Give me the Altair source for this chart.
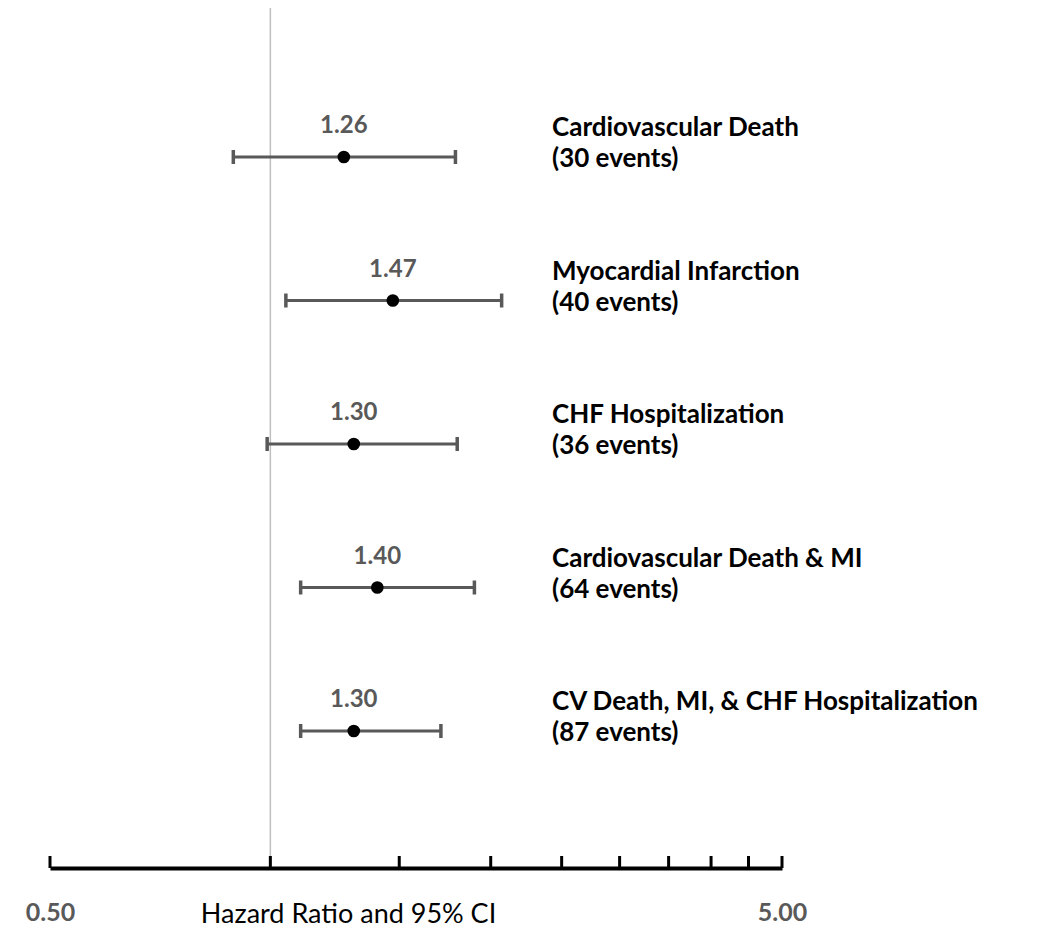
import altair as alt
import pandas as pd

outcomes = ["Cardiovascular Death", "Myocardial Infarction", "CHF Hospitalization",
            "Cardiovascular Death & MI", "CV Death, MI, & CHF Hospitalization"]
events = [30, 40, 36, 64, 87]
hr = [1.26, 1.47, 1.30, 1.40, 1.30]
ci_low = [0.89, 1.05, 0.99, 1.10, 1.10]
ci_high = [1.79, 2.07, 1.80, 1.90, 1.71]
axis_ticks = [0.5, 1.0, 1.5, 2.0, 2.5, 3.0, 3.5, 4.0, 4.5, 5.0]
axis_labels = [0.5, 5.0]
reference_hr = [1.0]

df = pd.DataFrame({
    "outcome": outcomes,
    "events": [f"({e} events)" for e in events],
    "hr": hr,
    "hr_label": [f"{v:.2f}" for v in hr],
    "lo": ci_low,
    "hi": ci_high,
})

FONT = "Lato"
GREY = "#595959"

xscale = alt.Scale(type="log", domain=[0.5, 5.0], nice=False)
yscale = alt.Scale(type="point", padding=0.9965, align=0.521)

x_axis = alt.Axis(values=axis_labels, format=".2f", ticks=False, grid=False,
                  domainColor="black", domainWidth=4, labelFlush=False,
                  labelFont=FONT, labelFontSize=25, labelFontWeight="bold",
                  labelColor=GREY, labelPadding=44, labelBaseline="middle",
                  title="Hazard Ratio and 95% CI", titleFont=FONT, titleFontSize=27,
                  titleFontWeight="normal", titleColor="black",
                  titleX=298, titleY=46, titleAlign="center", titleBaseline="middle")

base = alt.Chart(df)
y_enc = alt.Y("outcome:N", sort=outcomes, scale=yscale, axis=None)

ref = alt.Chart(pd.DataFrame({"v": reference_hr})).mark_rule(
    color="#bfbfbf", strokeWidth=1.5
).encode(
    x=alt.X("v:Q", scale=xscale, axis=x_axis),
    y=alt.value(0), y2=alt.value(860)
)

ticks = alt.Chart(pd.DataFrame({"t": axis_ticks})).mark_rule(
    color="black", strokeWidth=3
).encode(
    x=alt.X("t:Q", scale=xscale),
    y=alt.value(848), y2=alt.value(860)
)

ci = base.mark_rule(color=GREY, strokeWidth=3).encode(
    x=alt.X("lo:Q", scale=xscale), x2="hi:Q", y=y_enc
)
cap_lo = base.mark_tick(color=GREY, thickness=3.5, size=14, opacity=1).encode(
    x=alt.X("lo:Q", scale=xscale), y=y_enc
)
cap_hi = base.mark_tick(color=GREY, thickness=3.5, size=14, opacity=1).encode(
    x=alt.X("hi:Q", scale=xscale), y=y_enc
)
pts = base.mark_circle(color="black", opacity=1, size=160).encode(
    x=alt.X("hr:Q", scale=xscale), y=y_enc
)
val = base.mark_text(font=FONT, fontSize=24, fontWeight="bold", color=GREY,
                     dy=-31, baseline="middle").encode(
    x=alt.X("hr:Q", scale=xscale), y=y_enc, text="hr_label:N"
)
name = base.mark_text(font=FONT, fontSize=26, fontWeight="bold", color="black",
                      align="left", baseline="middle", dy=-29).encode(
    x=alt.value(502), y=y_enc, text="outcome:N"
)
ev = base.mark_text(font=FONT, fontSize=26, fontWeight="bold", color="black",
                    align="left", baseline="middle", dy=2).encode(
    x=alt.value(502), y=y_enc, text="events:N"
)

chart = alt.layer(ref, ticks, ci, cap_lo, cap_hi, pts, val, name, ev).properties(
    width=732, height=860,
    autosize=alt.AutoSizeParams(type="none"),
    padding={"left": 42, "top": 0, "right": 260, "bottom": 75},
).configure(background="white").configure_view(strokeWidth=0, stroke=None)

chart.save("out.html", embed_options={"renderer": "svg", "actions": False})
